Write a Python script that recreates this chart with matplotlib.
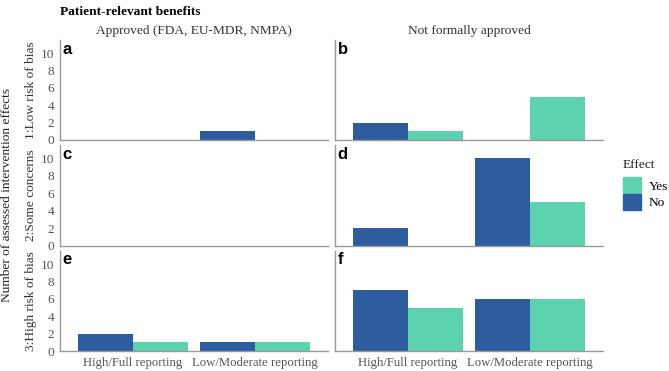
import numpy as np
import matplotlib.pyplot as plt
from matplotlib.patches import Patch

# data
categories = ['High/Full reporting', 'Low/Moderate reporting']
columns = ['Approved (FDA, EU-MDR, NMPA)', 'Not formally approved']
rows = ['1:Low risk of bias', '2:Some concerns', '3:High risk of bias']
letters = [['a', 'b'], ['c', 'd'], ['e', 'f']]

# counts per panel: [High/Full, Low/Moderate]
no_a = [0, 1];  yes_a = [0, 0]
no_b = [2, 0];  yes_b = [1, 5]
no_c = [0, 0];  yes_c = [0, 0]
no_d = [2, 10]; yes_d = [0, 5]
no_e = [2, 1];  yes_e = [1, 1]
no_f = [7, 6];  yes_f = [5, 6]

no_vals = [[no_a, no_b], [no_c, no_d], [no_e, no_f]]
yes_vals = [[yes_a, yes_b], [yes_c, yes_d], [yes_e, yes_f]]

col_no = '#2D5C9F'
col_yes = '#5CD3AE'
grey = '#555555'

plt.rcParams['font.family'] = ['Liberation Serif', 'DejaVu Serif']

W, H = 669, 371
fig = plt.figure(figsize=(W / 100, H / 100), dpi=100)

xcols = [(60, 328), (335, 603)]
yrows = [(40, 140), (145, 246), (251, 351)]

x = np.arange(1, len(categories) + 1)
bw = 0.45
fs = 9.6

for r in range(3):
    for c in range(2):
        x0, x1 = xcols[c]
        y0, y1 = yrows[r]
        ax = fig.add_axes([x0 / W, 1 - y1 / H, (x1 - x0) / W, (y1 - y0) / H])
        ax.bar(x - bw / 2, no_vals[r][c], width=bw, color=col_no)
        ax.bar(x + bw / 2, yes_vals[r][c], width=bw, color=col_yes)
        ax.set_xlim(0.4, 2.6)
        ax.set_ylim(0, 11.5)
        ax.set_yticks([0, 2, 4, 6, 8, 10])
        for s in ['top', 'right']:
            ax.spines[s].set_visible(False)
        for s in ['left', 'bottom']:
            ax.spines[s].set_color('#999999')
            ax.spines[s].set_linewidth(1.0)
        ax.tick_params(length=0, labelsize=fs, labelcolor=grey, pad=4)
        if c == 1:
            ax.set_yticklabels([])
        if r < 2:
            ax.set_xticks([])
        else:
            ax.set_xticks(x)
            ax.set_xticklabels(categories, fontsize=9.2, color=grey)
        ax.text(0.01, 0.985, letters[r][c], transform=ax.transAxes,
                family='Liberation Sans', fontweight='bold', fontsize=12,
                va='top', ha='left')
        if r == 0:
            ax.set_title(columns[c], fontsize=fs, color='#333333', pad=4)
        if c == 0:
            ax.text(-29 / (x1 - x0), 0.5, rows[r], transform=ax.transAxes,
                    rotation=90, fontsize=fs, color='#333333',
                    va='center', ha='center')

fig.text(7 / W, 1 - 195 / H, 'Number of assessed intervention effects',
         rotation=90, fontsize=fs, va='center', ha='center', color='#222222')
fig.text(60 / W, 1 - 12 / H, 'Patient-relevant benefits', fontsize=fs,
         fontweight='bold', va='center', ha='left')

# legend
fig.text(623 / W, 1 - 165 / H, 'Effect', fontsize=fs, va='center',
         ha='left', color='#222222')
handles = [Patch(color=col_yes, label='Yes'), Patch(color=col_no, label='No')]
fig.legend(handles=handles, loc='upper left',
           bbox_to_anchor=(623 / W, 1 - 177 / H), frameon=False,
           borderpad=0, borderaxespad=0,
           fontsize=fs, handlelength=1.35,
           handleheight=1.5, handletextpad=0.6, labelspacing=0.05)

fig.savefig('out.png', dpi=100)
